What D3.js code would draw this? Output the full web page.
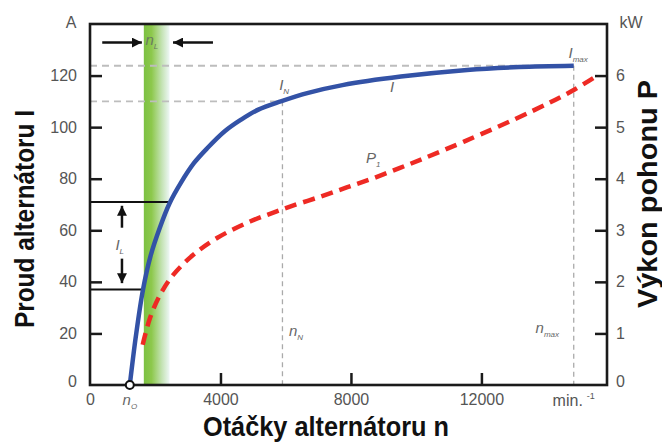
<!DOCTYPE html>
<html><head><meta charset="utf-8">
<script src="https://cdn.jsdelivr.net/npm/d3@7"></script>
<style>body{margin:0;background:#fff} svg{display:block}</style>
</head><body>
<script>
// ---- data ----
const currentN = [1220,1407,1625,1855,2140,2440,2780,3190,3600,4130,4630,5160,5850,6690,7740,9530,11560,13150,14830];
const currentI = [0,19,37,50,61,70.5,78.3,86.1,91.9,98.4,102.9,106.8,110,113.3,116.3,119.6,122.2,123.3,123.8];
const powerN = [1616,1839,2146,2545,3158,3893,4905,5519,6132,7052,7870,8685,9504,10218,11466,13520,14746,15451];
const powerP = [0.78,1.30,1.745,2.13,2.52,2.85,3.17,3.32,3.46,3.65,3.83,4.01,4.21,4.39,4.72,5.30,5.69,5.96];
const xTicks = [0,4000,8000,12000];
const xTickLabels = ["0","4000","8000","12000"];
const yTicks = [0,20,40,60,80,100,120];
const yRTicks = [0,1,2,3,4,5,6];
const n0 = 1220, nN = 5900, nMax = 14830, IN = 110, IMax = 123.8;
const ILTop = 71, ILBot = 37, nLStart = 1650, nLEnd = 2440;
const titles = {x:"Otáčky alternátoru n", y:"Proud alternátoru I", yR:"Výkon pohonu P"};

// ---- layout ----
const W = 662, H = 442;
const L = 90, R = 607, T = 24, B = 385;
const x = d3.scaleLinear().domain([0,15850]).range([L,R]);
const y = d3.scaleLinear().domain([0,140]).range([B,T]);
const yR = d3.scaleLinear().domain([0,7]).range([B,T]);

const svg = d3.select("body").append("svg").attr("width",W).attr("height",H)
  .style("font-family","'Liberation Sans', Arial, sans-serif");
const defs = svg.append("defs");
const g = defs.append("linearGradient").attr("id","band").attr("x1","0").attr("x2","1").attr("y1","0").attr("y2","0");
g.append("stop").attr("offset","0%").attr("stop-color","#7cc142");
g.append("stop").attr("offset","30%").attr("stop-color","#8dc84c");
g.append("stop").attr("offset","70%").attr("stop-color","#c4e3b4");
g.append("stop").attr("offset","100%").attr("stop-color","#eef7f6");
defs.append("marker").attr("id","ah").attr("viewBox","0 0 10 10").attr("refX",10).attr("refY",5)
  .attr("markerWidth",4).attr("markerHeight",4).attr("markerUnits","strokeWidth").attr("orient","auto")
  .append("path").attr("d","M0,0L10,5L0,10Z").attr("fill","#111");

// green band
svg.append("rect").attr("x",x(nLStart)).attr("y",T).attr("width",x(nLEnd)-x(nLStart)).attr("height",B-T)
  .attr("fill","url(#band)");

// dashed guides
const dash = svg.append("g").attr("stroke","#bdbdbd").attr("fill","none");
dash.append("line").attr("x1",L).attr("x2",x(nMax)).attr("y1",y(IMax)).attr("y2",y(IMax)).attr("stroke-width",1.8).attr("stroke-dasharray","7,5");
dash.append("line").attr("x1",L).attr("x2",x(nN)).attr("y1",y(IN)).attr("y2",y(IN)).attr("stroke-width",1.8).attr("stroke-dasharray","7,5");
dash.append("line").attr("x1",x(nN)).attr("x2",x(nN)).attr("y1",y(IN)).attr("y2",B).attr("stroke-width",1.3).attr("stroke-dasharray","5,4").attr("stroke","#aaa");
dash.append("line").attr("x1",x(nMax)).attr("x2",x(nMax)).attr("y1",y(IMax)).attr("y2",B).attr("stroke-width",1.3).attr("stroke-dasharray","5,4").attr("stroke","#aaa");

// I_L lines
svg.append("line").attr("x1",L).attr("x2",x(nLEnd)).attr("y1",y(ILTop)).attr("y2",y(ILTop)).attr("stroke","#111").attr("stroke-width",2);
svg.append("line").attr("x1",L).attr("x2",x(nLStart)).attr("y1",y(ILBot)).attr("y2",y(ILBot)).attr("stroke","#111").attr("stroke-width",2);

// curves
const cur = currentN.map((n,i)=>[n,currentI[i]]);
const pow = powerN.map((n,i)=>[n,powerP[i]]);
svg.append("path").attr("d",d3.line().x(d=>x(d[0])).y(d=>yR(d[1])).curve(d3.curveCatmullRom.alpha(0.5))(pow))
  .attr("fill","none").attr("stroke","#ee2a24").attr("stroke-width",4.5).attr("stroke-dasharray","12,7");
svg.append("path").attr("d",d3.line().x(d=>x(d[0])).y(d=>y(d[1])).curve(d3.curveCatmullRom.alpha(0.5))(cur))
  .attr("fill","none").attr("stroke","#3352a6").attr("stroke-width",4.5);

// arrows
const arrows = [
  [[375,132.8],[1590,132.8]],
  [[3770,132.8],[2545,132.8]],
  [[980,61],[980,69.5]],
  [[980,49],[980,39.5]]
];
arrows.forEach(a=>svg.append("line").attr("x1",x(a[0][0])).attr("y1",y(a[0][1])).attr("x2",x(a[1][0])).attr("y2",y(a[1][1]))
  .attr("stroke","#111").attr("stroke-width",2.5).attr("marker-end","url(#ah)"));

// axes
const tickStyle = sel => {
  sel.select(".domain").remove();
  sel.selectAll(".tick line").attr("stroke","#1a1a1a").attr("stroke-width",2.5);
  sel.selectAll(".tick text").attr("fill","#555").style("font-size","16px");
};
const ax1 = svg.append("g").attr("transform",`translate(${L},0)`)
  .call(d3.axisLeft(y).tickValues(yTicks).tickSize(-12).tickPadding(13)).call(tickStyle);
ax1.selectAll(".tick").filter(d=>d===0).select("line").remove();
ax1.selectAll(".tick").filter(d=>d===0).select("text").attr("y",-4);
const ax2 = svg.append("g").attr("transform",`translate(${R},0)`)
  .call(d3.axisRight(yR).tickValues(yRTicks).tickFormat(d3.format("d")).tickSize(-12).tickPadding(9)).call(tickStyle);
ax2.selectAll(".tick").filter(d=>d===0).select("line").remove();
ax2.selectAll(".tick").filter(d=>d===0).select("text").attr("y",-4);
svg.append("g").attr("transform",`translate(0,${B})`)
  .call(d3.axisBottom(x).tickValues(xTicks).tickFormat((d,i)=>xTickLabels[i]).tickSize(-12).tickPadding(9)).call(tickStyle)
  .selectAll(".tick").filter(d=>d===0).select("line").remove();

// frame
svg.append("rect").attr("x",L).attr("y",T).attr("width",R-L).attr("height",B-T)
  .attr("fill","none").attr("stroke","#1a1a1a").attr("stroke-width",2.6);

// n0 circle
svg.append("circle").attr("cx",x(n0)).attr("cy",B).attr("r",4).attr("fill","#fff").attr("stroke","#111").attr("stroke-width",2);

// unit labels
svg.append("text").attr("x",71).attr("y",28).attr("text-anchor","middle").attr("fill","#555").style("font-size","16px").text("A");
svg.append("text").attr("x",631).attr("y",28).attr("text-anchor","middle").attr("fill","#555").style("font-size","16px").text("kW");
const mt = svg.append("text").attr("x",x(nMax)).attr("y",406).attr("text-anchor","middle").attr("fill","#555").style("font-size","16px");
mt.append("tspan").text("min.");
mt.append("tspan").attr("dx",4).attr("dy",-7).style("font-size","9px").text("-1");

// italic annotation labels
function lab(px,py,main,sub,color,size){
  const t = svg.append("text").attr("x",px).attr("y",py).attr("fill",color||"#666")
    .style("font-style","italic").style("font-size",(size||15)+"px");
  t.append("tspan").text(main);
  t.append("tspan").attr("dy",4).style("font-size","8px").text(sub);
}
lab(x(1700),45,"n","L","#6a7a60");
lab(x(5800),90,"I","N");
lab(x(9200),92,"I","");
lab(x(8460),163,"P","1");
lab(x(14670),58,"I","max");
lab(x(6100),336,"n","N");
lab(x(13660),333,"n","max");
lab(x(1000),405,"n","O");
lab(x(780),250,"I","L");

// titles
const tt = {"font-weight":"bold","font-size":"27px","fill":"#111"};
const bt = svg.append("text").attr("x",326).attr("y",436).attr("text-anchor","middle").attr("textLength",246).attr("lengthAdjust","spacingAndGlyphs").text(titles.x);
const lt = svg.append("text").attr("transform","translate(34,219) rotate(-90)").attr("text-anchor","middle").attr("textLength",218).attr("lengthAdjust","spacingAndGlyphs").text(titles.y);
const rt = svg.append("text").attr("transform","translate(657,194) rotate(-90)").attr("text-anchor","middle").attr("textLength",228).attr("lengthAdjust","spacingAndGlyphs").text(titles.yR);
[bt,lt,rt].forEach(s=>Object.entries(tt).forEach(([k,v])=>s.style(k,v)));
</script>
</body></html>
